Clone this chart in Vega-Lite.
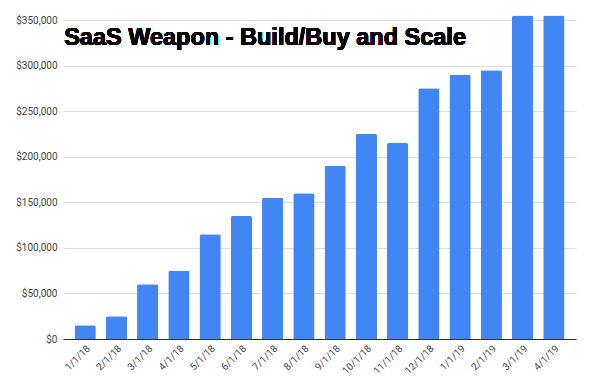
{
  "$schema": "https://vega.github.io/schema/vega-lite/v6.json",
  "autosize": {"type": "none"},
  "width": 513,
  "height": 319,
  "padding": {"left": 63, "top": 20, "right": 24, "bottom": 42},
  "background": "white",
  "config": {"view": {"stroke": null}},
  "data": {"values": [
    {"date": "1/1/18", "value": 15000},
    {"date": "2/1/18", "value": 25000},
    {"date": "3/1/18", "value": 60000},
    {"date": "4/1/18", "value": 75000},
    {"date": "5/1/18", "value": 115000},
    {"date": "6/1/18", "value": 135000},
    {"date": "7/1/18", "value": 155000},
    {"date": "8/1/18", "value": 160000},
    {"date": "9/1/18", "value": 190000},
    {"date": "10/1/18", "value": 225000},
    {"date": "11/1/18", "value": 215000},
    {"date": "12/1/18", "value": 275000},
    {"date": "1/1/19", "value": 290000},
    {"date": "2/1/19", "value": 295000},
    {"date": "3/1/19", "value": 355000},
    {"date": "4/1/19", "value": 355000}
  ]},
  "layer": [
    {
      "mark": {"type": "bar", "color": "#4285F4", "clip": false, "cornerRadiusTopLeft": 2, "cornerRadiusTopRight": 2},
      "encoding": {
        "x": {"field": "date", "type": "nominal", "sort": null,
          "scale": {"paddingInner": 0.32, "paddingOuter": 0.37},
          "axis": {"title": null, "labelAngle": -45, "ticks": false, "domainColor": "#333333", "labelColor": "#444444", "labelFont": "Roboto", "labelFontSize": 10, "labelPadding": 4}},
        "y": {"field": "value", "type": "quantitative",
          "scale": {"domain": [0, 350000], "nice": false},
          "axis": {"title": null, "format": "$,.0f", "values": [0, 50000, 100000, 150000, 200000, 250000, 300000, 350000], "labelOverlap": false, "labelBound": false, "domain": false, "ticks": false, "gridColor": "#dddddd", "labelColor": "#444444", "labelFont": "Roboto", "labelFontSize": 10, "labelPadding": 6}}
      }
    },
    {
      "mark": {"type": "text", "align": "left", "baseline": "alphabetic", "font": "Liberation Sans", "fontWeight": "bold", "fontSize": 23.5, "color": "black", "dx": -21, "text": "SaaS Weapon - Build/Buy and Scale"},
      "encoding": {
        "x": {"datum": "1/1/18", "type": "nominal"},
        "y": {"datum": 322500, "type": "quantitative"}
      }
    }
  ]
}
